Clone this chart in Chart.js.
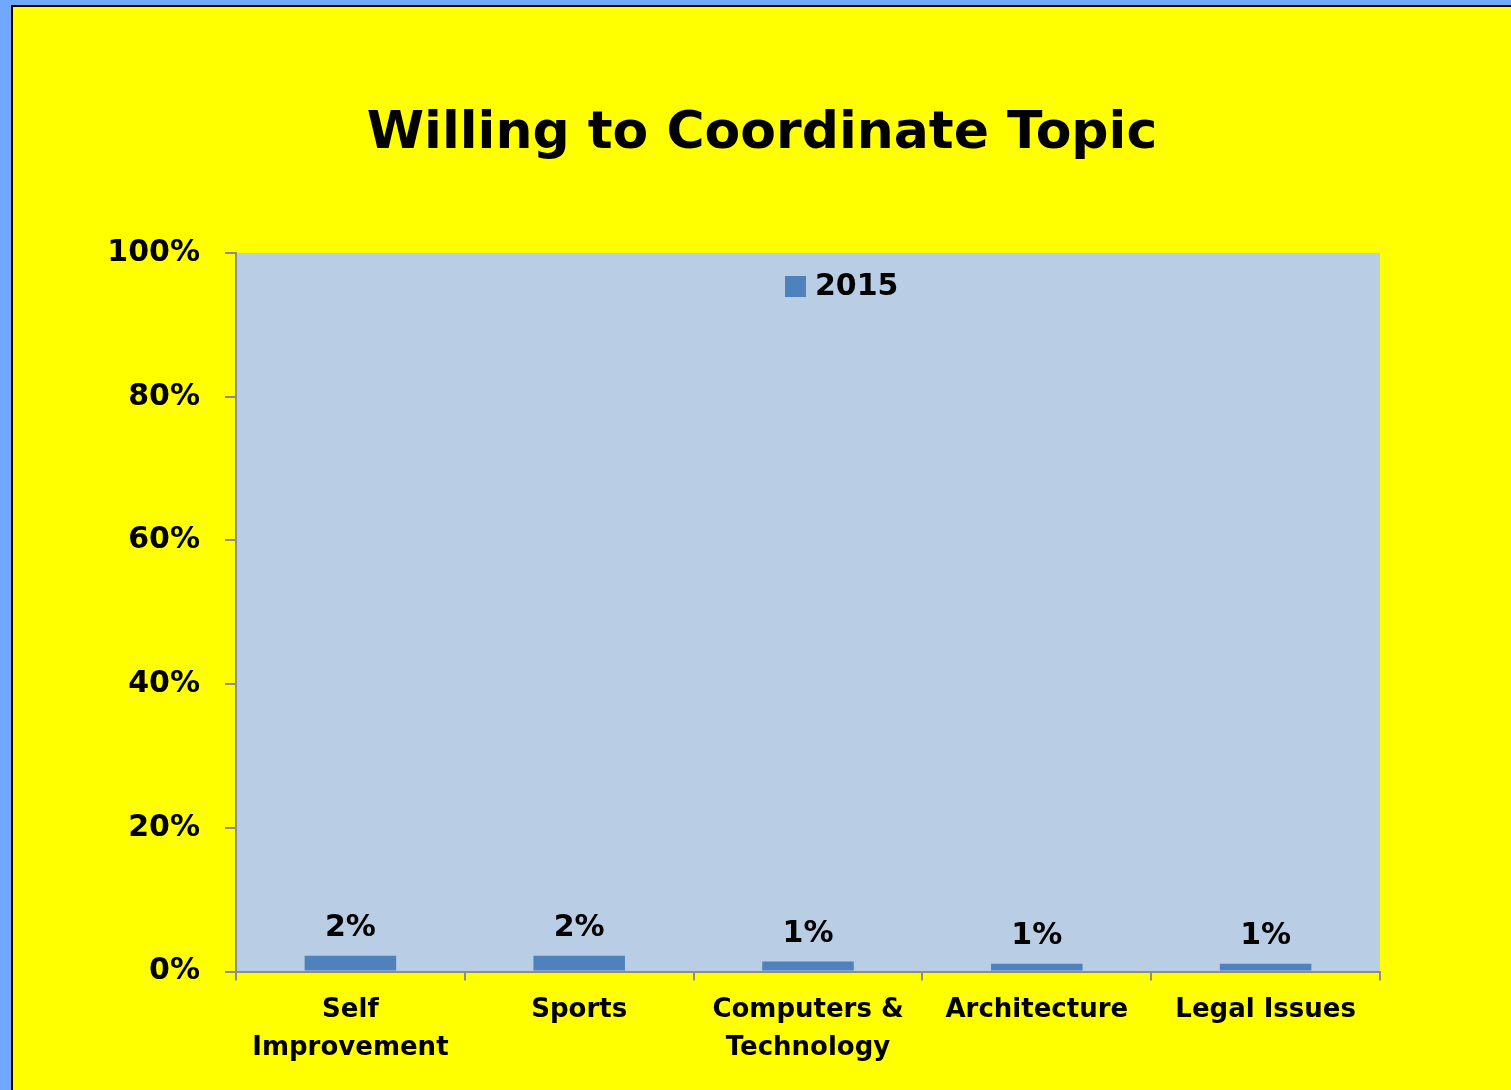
<!DOCTYPE html>
<html>
<head>
<meta charset="utf-8">
<script src="https://cdn.jsdelivr.net/npm/chart.js@4"></script>
<style>
  html, body { margin: 0; padding: 0; }
  body { background: #70A8FF; width: 1511px; height: 1090px; overflow: hidden; }
  .panel {
    position: absolute; left: 11px; top: 5px;
    width: 1498px; height: 1083px;
    background: #FFFF00;
    border-left: 2px solid #000; border-top: 2px solid #000;
  }
</style>
</head>
<body>
<div class="panel"><canvas id="myChart" width="1498" height="1083"></canvas></div>
<script>
const topics = [['Self', 'Improvement'], 'Sports', ['Computers &', 'Technology'], 'Architecture', 'Legal Issues'];
const willing2015 = [2.2, 2.2, 1.4, 1.1, 1.1];
const seriesName = '2015';
const yTicks = [0, 20, 40, 60, 80, 100];
const chartTitle = 'Willing to Coordinate Topic';

const FONT = 'DejaVu Sans';
const AXIS_GREY = '#8C8C8C';

// title centred on the whole canvas, not on the padded layout box
const titlePlugin = {
  id: 'titlePlugin',
  afterDraw: (chart) => {
    const ctx = chart.ctx;
    ctx.save();
    ctx.font = 'bold 52px "' + FONT + '"';
    ctx.fillStyle = '#000';
    ctx.textAlign = 'center';
    ctx.textBaseline = 'alphabetic';
    ctx.fillText(chartTitle, chart.width / 2, 141);
    ctx.restore();
  }
}

// light blue plot background behind the bars
const plotBackground = {
  id: 'plotBackground',
  beforeDraw: (chart) => {
    const {ctx, chartArea} = chart;
    ctx.save();
    ctx.fillStyle = '#B9CDE5';
    ctx.fillRect(chartArea.left, chartArea.top, chartArea.right - chartArea.left, chartArea.bottom - chartArea.top);
    ctx.restore();
  }
}

// percent labels above each bar
const barLabels = {
  id: 'barLabels',
  afterDatasetsDraw: (chart) => {
    const ctx = chart.ctx;
    const meta = chart.getDatasetMeta(0);
    ctx.save();
    ctx.font = 'bold 30px "' + FONT + '"';
    ctx.fillStyle = '#000';
    ctx.textAlign = 'center';
    ctx.textBaseline = 'alphabetic';
    meta.data.forEach((bar, i) => {
      const value = chart.data.datasets[0].data[i];
      ctx.fillText(Math.round(value) + '%', bar.x, bar.y - 20);
    })
    ctx.restore();
  }
}

// legend sits inside the plot, near the top
const innerLegend = {
  id: 'innerLegend',
  afterDraw: (chart) => {
    const {ctx, chartArea} = chart;
    const ds = chart.data.datasets[0];
    const x = chartArea.left + 549;
    const y = chartArea.top + 23;
    ctx.save();
    ctx.fillStyle = ds.backgroundColor;
    ctx.fillRect(x, y, 21, 21);
    ctx.font = 'bold 30px "' + FONT + '"';
    ctx.fillStyle = '#000';
    ctx.textBaseline = 'middle';
    ctx.fillText(ds.label, x + 30, y + 11);
    ctx.restore();
  }
}

const paintGraph = (canvasName, labels, values) => {
  const ctx = document.getElementById(canvasName);

  new Chart(ctx, {
    type: 'bar',
    data: {
      labels: labels,
      datasets: [{
        label: seriesName,
        data: values,
        backgroundColor: '#4F81BD',
        borderWidth: 0,
        barPercentage: 0.4,
        categoryPercentage: 1
      }]
    },
    plugins: [plotBackground, barLabels, innerLegend, titlePlugin],
    options: {
      responsive: false,
      animation: false,
      layout: {
        padding: { left: 94, right: 131, top: 246, bottom: 12 }
      },
      plugins: {
        legend: { display: false },
        tooltip: { enabled: false },
        title: { display: false }
      },
      scales: {
        y: {
          min: 0,
          max: 100,
          afterFit: (scale) => { scale.width = 129 },
          afterBuildTicks: (scale) => { scale.ticks = yTicks.map(v => ({ value: v })) },
          ticks: {
            color: '#000',
            padding: 25,
            font: { family: FONT, size: 30, weight: 'bold' },
            callback: (v) => v + '%'
          },
          grid: { drawOnChartArea: false, drawTicks: true, tickLength: 11, color: AXIS_GREY, lineWidth: 2 },
          border: { color: AXIS_GREY, width: 2 }
        },
        x: {
          ticks: {
            color: '#000',
            padding: 11,
            maxRotation: 0,
            font: { family: FONT, size: 26, weight: 'bold', lineHeight: 1.45 }
          },
          grid: { offset: true, drawOnChartArea: false, drawTicks: true, tickLength: 9, color: AXIS_GREY, lineWidth: 2 },
          border: { color: AXIS_GREY, width: 2 }
        }
      }
    }
  });
}

paintGraph('myChart', topics, willing2015);
</script>
</body>
</html>
